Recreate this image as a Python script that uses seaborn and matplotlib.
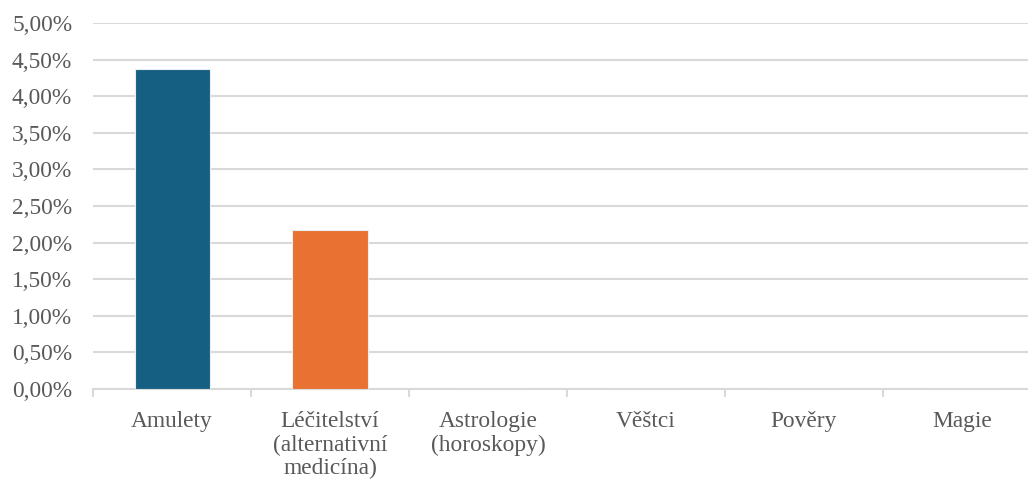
import matplotlib
matplotlib.use("Agg")
import matplotlib.pyplot as plt
from matplotlib.ticker import FuncFormatter, MultipleLocator, FixedLocator
import seaborn as sns
import pandas as pd

categories = [
    "Amulety",
    "Léčitelství\n(alternativní\nmedicína)",
    "Astrologie\n(horoskopy)",
    "Věštci",
    "Pověry",
    "Magie",
]
values = [4.37, 2.17, 0.0, 0.0, 0.0, 0.0]
bar_colors = ["#156082", "#E97132", "#196B24", "#0F9ED5", "#A02B93", "#4EA72E"]

sns.set_theme(style="white")
plt.rcParams["font.family"] = ["Liberation Serif", "DejaVu Serif"]

df = pd.DataFrame({"kategorie": categories, "podil": values})

fig = plt.figure(figsize=(10.28, 4.86), dpi=100)
ax = fig.add_axes([0.0905, 0.1996, 0.9095, 0.7531])

sns.barplot(
    data=df, x="kategorie", y="podil", hue="kategorie",
    palette=bar_colors, saturation=1, legend=False, width=0.475,
    edgecolor="#e8eef2", linewidth=0.8, ax=ax, zorder=3,
)

ax.set_ylim(0, 5)
ax.set_xlim(-0.5, 5.418)
ax.yaxis.set_major_locator(MultipleLocator(0.5))
ax.yaxis.set_major_formatter(FuncFormatter(lambda v, _: f"{v:.2f}%".replace(".", ",")))
ax.yaxis.grid(True, color="#d9d9d9", linewidth=1.5, zorder=0)
ax.set_axisbelow(True)

for side in ["top", "right", "left"]:
    ax.spines[side].set_visible(False)
ax.spines["bottom"].set_color("#d9d9d9")
ax.spines["bottom"].set_linewidth(1.5)

ax.set_xlabel("")
ax.set_ylabel("")
ax.tick_params(axis="y", length=0, pad=15, labelsize=16.8, labelcolor="#595959")
ax.tick_params(axis="x", which="major", length=0, pad=16, labelsize=16.8, labelcolor="#595959")
ax.xaxis.set_minor_locator(FixedLocator([i - 0.5 for i in range(len(categories) + 1)]))
ax.tick_params(axis="x", which="minor", length=6, width=1.5, color="#d9d9d9", bottom=True)
for lbl in ax.get_xticklabels():
    lbl.set_linespacing(1.15)

fig.savefig("out.png", dpi=100)
